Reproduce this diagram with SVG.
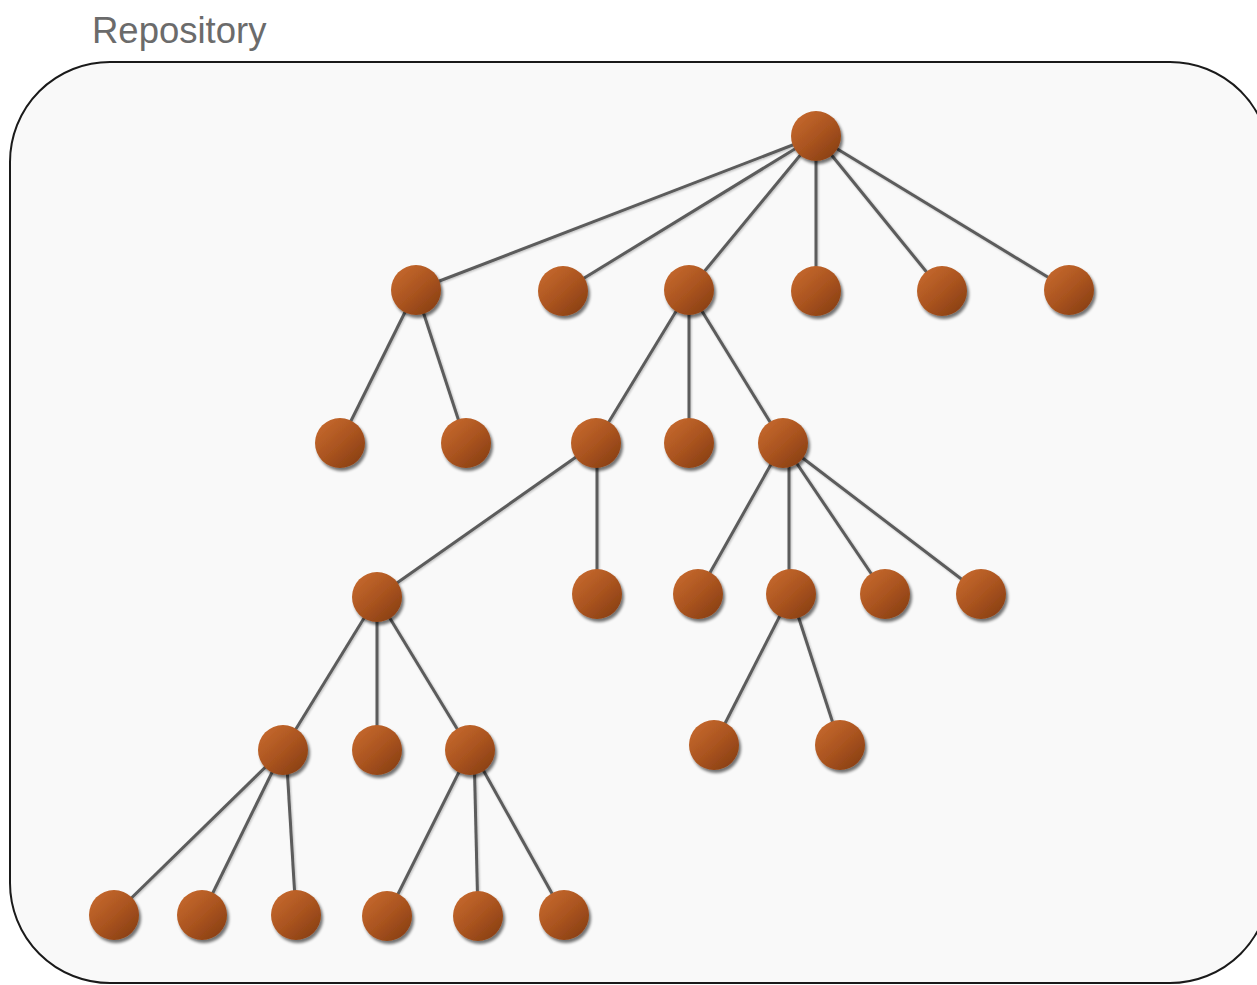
<svg xmlns="http://www.w3.org/2000/svg" width="1257" height="985" viewBox="0 0 1257 985">
<style>
.title{font-family:"Liberation Sans",Arial,sans-serif;font-size:36.5px;fill:#6b6b6b}
.frame{fill:#f9f9f9;stroke:#1a1a1a;stroke-width:2}
.edge{stroke:#5c5c5c;stroke-width:3;fill:none}
.node{fill:url(#ball);filter:url(#shadow)}
</style>
<defs>
<linearGradient id="ball" x1="0.15" y1="0.1" x2="0.9" y2="0.95">
<stop offset="0" stop-color="#c3672c"/>
<stop offset="0.5" stop-color="#a9531f"/>
<stop offset="1" stop-color="#873e13"/>
</linearGradient>
<filter id="shadow" x="-30%" y="-30%" width="170%" height="170%">
<feGaussianBlur in="SourceAlpha" stdDeviation="1.8"/>
<feOffset dx="1.5" dy="2.5" result="b"/>
<feComponentTransfer><feFuncA type="linear" slope="0.55"/></feComponentTransfer>
<feMerge><feMergeNode/><feMergeNode in="SourceGraphic"/></feMerge>
</filter>
<filter id="lshadow" x="-5%" y="-5%" width="110%" height="110%">
<feGaussianBlur in="SourceAlpha" stdDeviation="1"/>
<feOffset dx="1" dy="1"/>
<feComponentTransfer><feFuncA type="linear" slope="0.25"/></feComponentTransfer>
<feMerge><feMergeNode/><feMergeNode in="SourceGraphic"/></feMerge>
</filter>
</defs>
<text class="title" x="92" y="43">Repository</text>
<rect class="frame" x="10" y="62" width="1260" height="921" rx="100" ry="100"/>
<g id="connectors" filter="url(#lshadow)">
<line class="edge" x1="816" y1="136" x2="416" y2="290"/>
<line class="edge" x1="816" y1="136" x2="563" y2="291"/>
<line class="edge" x1="816" y1="136" x2="689" y2="290"/>
<line class="edge" x1="816" y1="136" x2="816" y2="290"/>
<line class="edge" x1="816" y1="136" x2="942" y2="291"/>
<line class="edge" x1="816" y1="136" x2="1069" y2="290"/>
<line class="edge" x1="416" y1="290" x2="340" y2="443"/>
<line class="edge" x1="416" y1="290" x2="466" y2="443"/>
<line class="edge" x1="689" y1="290" x2="596" y2="443"/>
<line class="edge" x1="689" y1="290" x2="689" y2="443"/>
<line class="edge" x1="689" y1="290" x2="783" y2="443"/>
<line class="edge" x1="596" y1="443" x2="377" y2="597"/>
<line class="edge" x1="597" y1="443" x2="597" y2="594"/>
<line class="edge" x1="783" y1="443" x2="698" y2="594"/>
<line class="edge" x1="789" y1="443" x2="789" y2="594"/>
<line class="edge" x1="783" y1="443" x2="885" y2="594"/>
<line class="edge" x1="783" y1="443" x2="981" y2="594"/>
<line class="edge" x1="377" y1="597" x2="283" y2="750"/>
<line class="edge" x1="377" y1="597" x2="377" y2="750"/>
<line class="edge" x1="377" y1="597" x2="470" y2="750"/>
<line class="edge" x1="791" y1="594" x2="714" y2="745"/>
<line class="edge" x1="791" y1="594" x2="840" y2="745"/>
<line class="edge" x1="283" y1="750" x2="114" y2="915"/>
<line class="edge" x1="283" y1="750" x2="202" y2="915"/>
<line class="edge" x1="286" y1="750" x2="296" y2="915"/>
<line class="edge" x1="470" y1="750" x2="387" y2="916"/>
<line class="edge" x1="474" y1="750" x2="478" y2="916"/>
<line class="edge" x1="472" y1="750" x2="564" y2="915"/>
</g>
<g id="n-root"><circle class="node" cx="816" cy="136" r="25"/></g>
<g id="n-1a"><circle class="node" cx="416" cy="290" r="25"/></g>
<g id="n-1b"><circle class="node" cx="563" cy="291" r="25"/></g>
<g id="n-1c"><circle class="node" cx="689" cy="290" r="25"/></g>
<g id="n-1d"><circle class="node" cx="816" cy="291" r="25"/></g>
<g id="n-1e"><circle class="node" cx="942" cy="291" r="25"/></g>
<g id="n-1f"><circle class="node" cx="1069" cy="290" r="25"/></g>
<g id="n-2a"><circle class="node" cx="340" cy="443" r="25"/></g>
<g id="n-2b"><circle class="node" cx="466" cy="443" r="25"/></g>
<g id="n-2c"><circle class="node" cx="596" cy="443" r="25"/></g>
<g id="n-2d"><circle class="node" cx="689" cy="443" r="25"/></g>
<g id="n-2e"><circle class="node" cx="783" cy="443" r="25"/></g>
<g id="n-3a"><circle class="node" cx="377" cy="597" r="25"/></g>
<g id="n-3b"><circle class="node" cx="597" cy="594" r="25"/></g>
<g id="n-3c"><circle class="node" cx="698" cy="594" r="25"/></g>
<g id="n-3d"><circle class="node" cx="791" cy="594" r="25"/></g>
<g id="n-3e"><circle class="node" cx="885" cy="594" r="25"/></g>
<g id="n-3f"><circle class="node" cx="981" cy="594" r="25"/></g>
<g id="n-4a"><circle class="node" cx="283" cy="750" r="25"/></g>
<g id="n-4b"><circle class="node" cx="377" cy="750" r="25"/></g>
<g id="n-4c"><circle class="node" cx="470" cy="750" r="25"/></g>
<g id="n-4d"><circle class="node" cx="714" cy="745" r="25"/></g>
<g id="n-4e"><circle class="node" cx="840" cy="745" r="25"/></g>
<g id="n-5a"><circle class="node" cx="114" cy="915" r="25"/></g>
<g id="n-5b"><circle class="node" cx="202" cy="915" r="25"/></g>
<g id="n-5c"><circle class="node" cx="296" cy="915" r="25"/></g>
<g id="n-5d"><circle class="node" cx="387" cy="916" r="25"/></g>
<g id="n-5e"><circle class="node" cx="478" cy="916" r="25"/></g>
<g id="n-5f"><circle class="node" cx="564" cy="915" r="25"/></g>
</svg>
